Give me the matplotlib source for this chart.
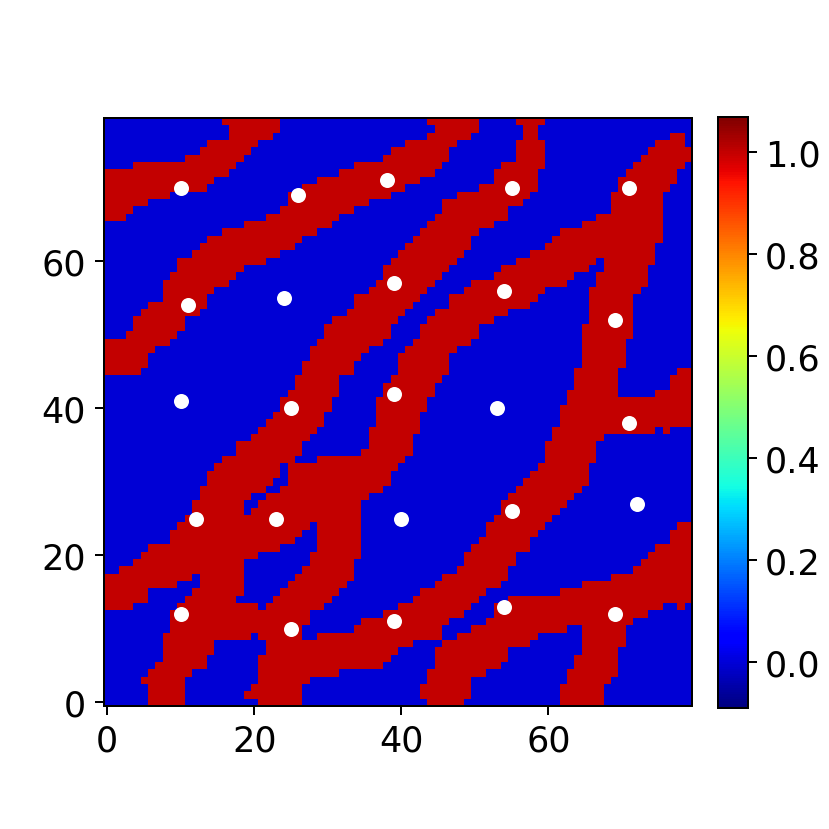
import numpy as np
import matplotlib
matplotlib.use("Agg")
import matplotlib.pyplot as plt

# Red (value 1) column runs [start, end) for each grid row, top row (y=79) first
red_runs = [
 [(16,24),(44,51),(56,60)],
 [(17,24),(45,51),(57,59)],
 [(17,23),(44,50),(57,59),(77,79)],
 [(14,21),(41,48),(56,60),(75,79)],
 [(13,20),(39,47),(56,60),(74,80)],
 [(11,19),(38,47),(56,60),(73,80)],
 [(4,18),(34,46),(54,60),(72,79)],
 [(0,17),(32,45),(53,59),(71,78)],
 [(0,15),(29,43),(53,59),(70,78)],
 [(0,14),(27,41),(51,59),(70,77)],
 [(0,9),(25,39),(48,58),(69,76)],
 [(0,6),(25,36),(46,57),(69,76)],
 [(0,4),(24,34),(46,55),(69,76)],
 [(0,3),(22,32),(45,55),(67,76)],
 [(19,31),(44,53),(65,76)],
 [(16,29),(43,51),(62,76)],
 [(14,27),(42,50),(61,76)],
 [(13,26),(41,50),(60,75)],
 [(12,24),(40,49),(58,75)],
 [(10,22),(39,48),(56,67),(68,75)],
 [(10,19),(38,47),(54,66),(68,74)],
 [(9,18),(38,46),(53,64),(67,74)],
 [(8,17),(37,45),(50,63),(67,74)],
 [(8,15),(36,44),(49,60),(66,73)],
 [(8,14),(34,43),(47,59),(66,72)],
 [(6,14),(34,42),(47,58),(66,72)],
 [(5,13),(33,41),(45,55),(66,72)],
 [(4,11),(31,40),(44,53),(66,72)],
 [(4,11),(30,39),(43,51),(65,72)],
 [(3,10),(30,39),(43,51),(65,72)],
 [(0,9),(29,38),(42,50),(65,71)],
 [(0,7),(28,36),(41,48),(65,71)],
 [(0,6),(28,35),(40,47),(65,71)],
 [(0,6),(27,34),(40,47),(65,71)],
 [(0,5),(27,34),(40,47),(64,70),(78,80)],
 [(26,32),(39,46),(64,70),(77,80)],
 [(26,32),(38,45),(64,70),(77,80)],
 [(25,32),(38,45),(63,70),(75,80)],
 [(24,31),(37,44),(63,80)],
 [(24,31),(37,44),(62,80)],
 [(23,30),(37,43),(62,80)],
 [(22,30),(37,43),(62,80)],
 [(21,29),(36,43),(61,75),(76,77)],
 [(20,28),(36,42),(61,68)],
 [(18,27),(36,42),(60,67)],
 [(18,27),(35,42),(60,67)],
 [(16,26),(29,41),(60,67)],
 [(15,24),(25,40),(59,66)],
 [(14,24),(25,39),(58,66)],
 [(14,23),(25,39),(57,66)],
 [(13,22),(24,38),(56,65)],
 [(13,20),(22,36),(55,64)],
 [(12,19),(21,35),(54,63)],
 [(12,19),(20,35),(54,62)],
 [(11,35),(53,61)],
 [(10,28),(29,35),(52,60),(78,80)],
 [(9,27),(29,35),(52,59),(77,80)],
 [(9,26),(29,35),(51,58),(77,80)],
 [(6,24),(29,35),(50,58),(75,80)],
 [(5,21),(28,35),(49,56),(74,80)],
 [(4,19),(28,34),(49,56),(73,80)],
 [(2,19),(27,34),(48,55),(72,80)],
 [(0,12),(13,19),(26,34),(46,55),(69,80)],
 [(0,10),(13,19),(25,33),(45,54),(65,80)],
 [(0,6),(12,19),(24,32),(43,52),(62,80)],
 [(0,6),(11,18),(23,31),(42,51),(55,80)],
 [(0,4),(10,21),(22,30),(40,50),(53,76),(78,79)],
 [(9,28),(38,49),(53,74)],
 [(9,28),(35,47),(52,72)],
 [(9,27),(34,46),(50,63),(65,71)],
 [(8,20),(21,27),(29,46),(48,59),(65,71)],
 [(8,15),(22,42),(46,58),(65,71)],
 [(8,15),(22,40),(45,55),(65,70)],
 [(8,14),(21,39),(45,55),(64,70)],
 [(7,14),(21,38),(45,54),(64,70)],
 [(6,12),(21,32),(44,52),(63,70)],
 [(5,11),(21,28),(44,50),(63,69)],
 [(6,11),(20,27),(43,50),(62,68)],
 [(6,11),(19,27),(43,50),(62,68)],
 [(6,11),(21,27),(44,49),(62,68)],
]

point_x = [10,26,38,55,71, 11,24,39,54,69, 10,25,39,53,71, 12,23,40,55,72, 10,25,39,54,69]
point_y = [70,69,71,70,70, 54,55,57,56,52, 41,40,42,40,38, 25,25,25,26,27, 12,10,11,13,12]

value_min = -0.09
value_max = 1.07
axis_ticks = [0, 20, 40, 60]
bar_ticks = [0.0, 0.2, 0.4, 0.6, 0.8, 1.0]

field = np.zeros((len(red_runs), 80))
for row, runs in enumerate(red_runs):
    for start, end in runs:
        field[row, start:end] = 1.0
field = field[::-1]

W = H = 830
DPI = 180
plt.rcParams["font.size"] = 14
fig = plt.figure(figsize=(W / DPI, H / DPI), dpi=DPI)
ax = fig.add_axes([103.7 / W, (H - 707) / H, 588 / W, 588 / H])
im = ax.imshow(field, cmap="jet", origin="lower", vmin=value_min, vmax=value_max,
               interpolation="nearest", aspect="equal")
ax.scatter(point_x, point_y, s=36, c="white", linewidths=0, zorder=3)
ax.set_xlim(-0.5, 79.5)
ax.set_ylim(-0.5, 79.5)
ax.set_xticks(axis_ticks)
ax.set_yticks(axis_ticks)

cax = fig.add_axes([718 / W, (H - 709.3) / H, 29.5 / W, 591.5 / H])
cb = fig.colorbar(im, cax=cax)
cb.set_ticks(bar_ticks)

fig.savefig("out.png", dpi=DPI)
